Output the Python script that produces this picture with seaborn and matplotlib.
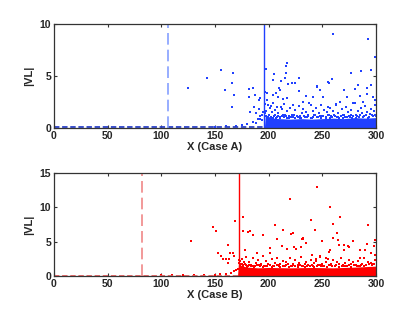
import matplotlib
matplotlib.use("Agg")
import matplotlib.pyplot as plt
import seaborn as sns
import pandas as pd

# ---- Case A (top) ----
a_dash_x = 106
a_solid_x = 196
a_out_x = [125.2, 142.9, 155.3, 167.1, 165.8, 159.0, 167.4, 165.5, 181.4, 185.4, 182.0, 187.6,
           192.0, 191.3, 186.0, 190.7, 188.2, 183.0, 193.5, 192.0, 196.3, 197.8, 196.6,
           259.9, 292.3, 299.1, 217.4, 216.2, 205.0, 216.2, 215.2, 221.5, 224.5, 228.6, 203.8,
           211.2, 209.9, 218.3, 198.2, 203.8, 206.8, 198.7, 209.0, 213.0, 217.4, 228.6, 234.5,
           241.6, 245.3, 247.8, 255.0, 256.2, 258.7, 250.9, 270.5, 276.4, 285.7, 295.0, 283.5,
           280.4, 291.3, 295.6, 285.1, 291.9, 296.9, 299.0, 273.3, 266.4, 278.3, 287.6, 222.4,
           231.7, 239.2, 201.9, 211.2, 255.6, 262.7, 210.6, 244.7]
a_out_y = [3.85, 4.78, 5.58, 5.32, 4.36, 3.70, 3.17, 2.02, 3.80, 3.85, 2.98, 3.17,
           2.90, 2.70, 2.00, 1.86, 1.41, 1.54, 1.25, 0.87, 2.30, 5.70, 3.50,
           9.04, 8.56, 6.80, 6.22, 6.00, 5.16, 5.26, 4.84, 4.36, 4.36, 4.78, 4.60,
           4.50, 3.85, 4.20, 3.40, 3.17, 3.40, 2.70, 3.00, 2.76, 2.85, 3.56, 3.08,
           2.95, 3.97, 3.65, 4.45, 4.30, 4.74, 2.95, 3.65, 5.32, 5.51, 5.58, 4.10,
           3.75, 3.82, 4.10, 3.08, 3.27, 3.00, 2.70, 2.95, 2.53, 2.44, 2.53, 2.20,
           2.53, 2.20, 2.10, 2.00, 2.00, 2.20, 3.65, 4.00]
a_mid_x = [150, 160, 170, 175, 180, 185, 188, 190, 192, 194, 195,
           198, 199, 200, 201, 202, 203, 204, 205, 206, 207, 208, 209, 211, 212, 213, 214, 216,
           217, 219, 220, 222, 223, 225, 226, 228, 229, 231, 232, 234, 235, 237, 238, 240, 241,
           243, 244, 246, 247, 249, 250, 252, 253, 254, 256, 257, 259, 260, 262, 263, 265, 266,
           268, 269, 271, 272, 274, 275, 277, 278, 280, 281, 283, 284, 286, 287, 289, 290, 292,
           293, 295, 296, 298, 299, 300]
a_mid_y = [0.10, 0.15, 0.20, 0.30, 0.40, 0.60, 0.50, 0.90, 1.20, 0.80, 1.50,
           1.6, 2.2, 1.3, 1.9, 1.1, 1.5, 2.4, 1.2, 1.7, 1.0, 2.0, 1.4, 1.1, 1.8, 1.3, 2.3, 1.2,
           1.6, 1.0, 1.9, 1.3, 1.1, 1.7, 1.2, 2.1, 1.0, 1.4, 1.8, 1.1, 1.5, 1.2, 2.4, 1.0, 1.6,
           1.3, 1.9, 1.1, 1.4, 2.2, 1.2, 1.7, 1.0, 1.5, 1.3, 1.9, 1.1, 1.6, 1.2, 2.3, 1.4, 1.0,
           1.8, 1.3, 1.1, 2.0, 1.5, 1.2, 1.7, 1.0, 2.4, 1.3, 1.6, 1.1, 1.9, 1.4, 1.2, 2.1, 1.5,
           1.0, 1.8, 1.3, 1.6, 2.2, 1.2]
# points that make the ragged top of the dense band
a_edge_x = [196.5, 197.5, 199.5, 200.5, 202.5, 204.0, 205.5, 207.5, 209.0, 210.5, 212.5,
            214.5, 215.5, 217.5, 218.5, 221.0, 223.5, 224.5, 227.0, 229.5, 230.5, 233.0,
            235.5, 236.5, 239.0, 241.5, 242.5, 245.0, 247.5, 248.5, 251.0, 253.5, 255.0,
            257.5, 258.5, 261.0, 263.5, 264.5, 267.0, 269.5, 270.5, 273.0, 275.5, 276.5,
            279.0, 281.5, 282.5, 285.0, 287.5, 288.5, 291.0, 293.5, 294.5, 297.0, 299.5]
a_edge_y = [1.45, 1.20, 1.05, 1.30, 1.10, 1.00, 1.25, 1.05, 1.15, 0.95, 1.20,
            1.05, 1.30, 1.00, 1.15, 1.05, 1.25, 0.95, 1.10, 1.20, 1.00, 1.15,
            1.05, 1.30, 1.00, 1.10, 1.25, 1.05, 1.15, 0.95, 1.20, 1.05, 1.30,
            1.00, 1.15, 1.25, 1.05, 1.10, 1.20, 1.00, 1.30, 1.10, 1.05, 1.25,
            1.15, 1.00, 1.20, 1.30, 1.05, 1.15, 1.25, 1.10, 1.35, 1.20, 1.30]
a_band_x = [196, 197, 200, 205, 210, 220, 230, 240, 250, 260, 270, 280, 290, 300]
a_band_hi = [0.0, 1.3, 1.1, 0.95, 0.9, 0.85, 0.9, 0.85, 0.9, 0.95, 0.9, 1.0, 0.95, 1.0]

# ---- Case B (bottom) ----
b_dash_x = 82
b_solid_x = 172
b_out_x = [127.3, 147.9, 150.9, 152.8, 155.6, 157.5, 160.3, 163.3, 162.1, 162.4, 164.3, 166.5,
           167.7, 168.6, 175.8, 176.0, 178.2, 172.0, 181.0, 182.6, 185.1, 195.0, 205.9, 207.5,
           213.0, 219.9, 220.5, 223.0, 212.1, 201.2, 216.8, 223.9, 230.8, 232.3, 234.8, 229.8,
           239.4, 243.1, 244.7, 249.4, 257.2, 259.7, 266.5, 259.7, 263.4, 264.4, 270.2, 274.2,
           278.3, 285.1, 292.3, 291.3, 298.4, 299.1, 295.0, 256.0, 231.7, 249.6, 225.4, 188.9,
           201.2, 253.5, 257.0, 265.6, 270.0, 275.0, 285.0, 290.0, 299.0, 248.0, 240.0, 244.0]
b_out_y = [5.04, 7.16, 6.53, 3.38, 2.90, 2.47, 2.47, 2.47, 1.84, 4.46, 3.38, 3.38,
           2.90, 7.99, 8.60, 6.53, 3.77, 2.40, 6.43, 6.53, 5.95, 5.95, 7.40, 5.37,
           6.78, 11.28, 6.10, 6.29, 4.40, 4.02, 3.92, 4.17, 5.37, 5.56, 4.75, 4.17,
           8.13, 6.78, 12.97, 5.13, 10.06, 7.65, 8.61, 5.56, 6.34, 5.23, 4.50, 4.40,
           5.08, 3.77, 7.50, 4.64, 4.35, 5.23, 3.30, 3.50, 5.46, 5.08, 4.00, 3.30,
           3.30, 2.60, 3.80, 4.50, 3.80, 4.20, 2.60, 3.80, 3.00, 2.80, 3.10, 2.50]
b_mid_x = [100, 110, 120, 130, 140, 150, 155, 160, 165, 168, 170, 171,
           173, 174, 175, 176, 177, 178, 179, 181, 182, 184, 185, 187, 188, 190, 191, 193, 195,
           196, 198, 199, 201, 203, 204, 206, 208, 209, 211, 213, 214, 216, 218, 220, 221, 223,
           225, 227, 228, 230, 232, 234, 235, 237, 239, 241, 242, 244, 246, 248, 250, 251, 253,
           255, 257, 258, 260, 262, 264, 266, 267, 269, 271, 273, 275, 277, 279, 281, 283, 285,
           287, 289, 291, 293, 295, 297, 299]
b_mid_y = [0.10, 0.10, 0.12, 0.15, 0.15, 0.20, 0.25, 0.30, 0.40, 0.70, 0.90, 1.10,
           2.2, 1.8, 2.5, 1.6, 2.0, 1.7, 2.8, 1.5, 2.1, 1.6, 2.6, 1.5, 1.9, 2.4, 1.6, 1.8, 2.9,
           1.5, 2.2, 1.7, 1.6, 2.5, 1.5, 1.9, 2.7, 1.6, 1.8, 2.2, 1.5, 2.0, 1.7, 2.6, 1.5, 1.8,
           2.3, 1.6, 1.9, 2.8, 1.5, 1.7, 2.1, 1.6, 2.4, 1.5, 1.9, 2.2, 1.6, 2.9, 1.7, 1.5, 2.0,
           2.5, 1.6, 1.8, 2.3, 1.5, 2.1, 1.7, 2.6, 1.6, 1.9, 1.5, 2.4, 1.7, 2.0, 1.6, 2.2, 1.5,
           1.8, 2.7, 1.6, 2.1, 1.9, 1.7, 2.3]
b_edge_x = [172.5, 173.5, 175.5, 176.5, 178.5, 180.0, 181.5, 183.5, 185.0, 186.5, 189.0,
            191.5, 192.5, 195.0, 197.5, 198.5, 201.0, 203.5, 205.0, 207.5, 209.5, 210.5,
            213.0, 215.5, 216.5, 219.0, 221.5, 222.5, 225.0, 227.5, 229.5, 231.0, 233.5,
            236.0, 238.5, 240.0, 242.5, 245.0, 247.5, 249.0, 251.5, 254.0, 256.5, 259.0,
            261.5, 263.0, 265.5, 268.0, 270.5, 272.0, 274.5, 277.0, 279.5, 282.0, 284.5,
            286.0, 288.5, 291.0, 293.5, 296.0, 298.5]
b_edge_y = [1.90, 1.60, 1.75, 1.45, 1.55, 1.35, 1.60, 1.40, 1.50, 1.35, 1.55,
            1.40, 1.60, 1.35, 1.50, 1.40, 1.55, 1.35, 1.45, 1.60, 1.40, 1.35,
            1.50, 1.40, 1.60, 1.35, 1.45, 1.55, 1.40, 1.35, 1.60, 1.45, 1.35,
            1.50, 1.40, 1.55, 1.35, 1.45, 1.60, 1.40, 1.50, 1.35, 1.55, 1.45,
            1.40, 1.60, 1.35, 1.50, 1.45, 1.40, 1.55, 1.35, 1.60, 1.45, 1.50,
            1.65, 1.45, 1.55, 1.70, 1.60, 1.75]
b_band_x = [171, 172, 175, 180, 190, 200, 220, 240, 260, 280, 300]
b_band_hi = [0.0, 1.8, 1.5, 1.3, 1.2, 1.25, 1.2, 1.25, 1.2, 1.3, 1.45]

xticks = [0, 50, 100, 150, 200, 250, 300]

sns.set_style("ticks")
plt.rcParams['font.family'] = ['Liberation Sans', 'DejaVu Sans']
plt.rcParams['font.weight'] = 'bold'
plt.rcParams['xtick.direction'] = 'in'
plt.rcParams['ytick.direction'] = 'in'

fig = plt.figure(figsize=(4.15, 3.13), dpi=100)
ax1 = fig.add_axes([0.130, 0.591, 0.776, 0.332])
ax2 = fig.add_axes([0.130, 0.118, 0.776, 0.329])


def draw(ax, color, dash_color, base_color, dash_x, solid_x, out_x, out_y, mid_x, mid_y,
         edge_x, edge_y, band_x, band_hi, base_end, ymax, yticks, xlabel):
    # near-zero baseline before the change point
    base = pd.DataFrame({'x': [0, base_end], 'y': [0.05, 0.05]})
    sns.lineplot(data=base, x='x', y='y', ax=ax, color=base_color, lw=1.3,
                 linestyle=(0, (3, 1.5)))
    ax.fill_between(band_x, 0, band_hi, color=color, lw=0)
    pts = pd.DataFrame({'x': out_x + mid_x + edge_x, 'y': out_y + mid_y + edge_y})
    sns.scatterplot(data=pts, x='x', y='y', ax=ax, color=color, marker='s', s=4,
                    linewidth=0)
    ax.axvline(dash_x, color=dash_color, lw=1.2, linestyle=(0, (7, 3)))
    ax.axvline(solid_x, color=color, lw=1.0)
    ax.set_xlim(0, 300)
    ax.set_ylim(0, ymax)
    ax.set_xticks(xticks)
    ax.set_yticks(yticks)
    ax.tick_params(labelsize=7.5, length=2.5, width=0.8, top=True, right=True, pad=2,
                   color='#333333')
    ax.set_xlabel(xlabel, fontsize=8, fontweight='bold', labelpad=1)
    ax.set_ylabel('|VL|', fontsize=8, fontweight='bold', labelpad=4)
    for s in ax.spines.values():
        s.set_visible(True)
        s.set_color('#333333')
        s.set_linewidth(0.9)


draw(ax1, '#2040ff', '#85a0ff', '#2a40c8', a_dash_x, a_solid_x, a_out_x, a_out_y,
     a_mid_x, a_mid_y, a_edge_x, a_edge_y, a_band_x, a_band_hi, 196, 10, [0, 5, 10],
     'X (Case A)')
draw(ax2, '#ff0000', '#f08888', '#e86060', b_dash_x, b_solid_x, b_out_x, b_out_y,
     b_mid_x, b_mid_y, b_edge_x, b_edge_y, b_band_x, b_band_hi, 172, 15, [0, 5, 10, 15],
     'X (Case B)')

fig.savefig('out.png', dpi=100)
